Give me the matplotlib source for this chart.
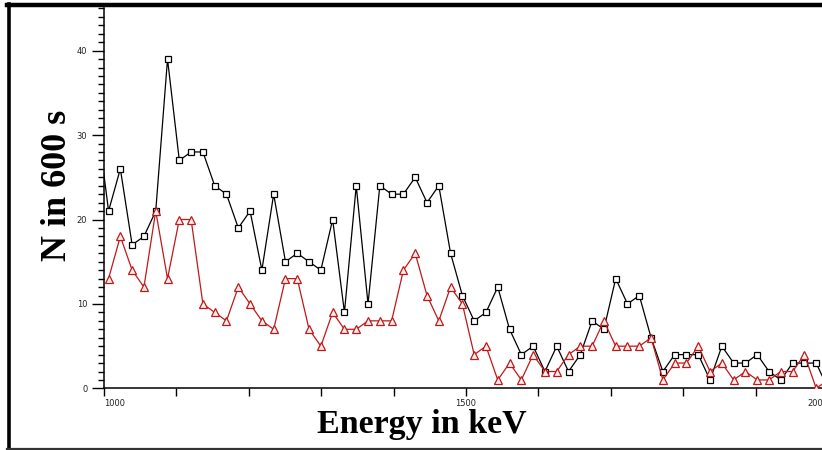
import matplotlib
matplotlib.use("Agg")
import matplotlib.pyplot as plt
from matplotlib.lines import Line2D
from matplotlib.ticker import MultipleLocator
import numpy as np

# energy channels (keV)
energy = np.linspace(990, 2000, 63)

# counts per channel in 600 s
counts_black = [32, 21, 26, 17, 18, 21, 39, 27, 28, 28, 24, 23, 19, 21, 14, 23,
                15, 16, 15, 14, 20, 9, 24, 10, 24, 23, 23, 25, 22, 24, 16, 11,
                8, 9, 12, 7, 4, 5, 2, 5, 2, 4, 8, 7, 13, 10, 11, 6, 2, 4,
                4, 4, 1, 5, 3, 3, 4, 2, 1, 3, 3, 3, 0]
counts_red = [np.nan, 13, 18, 14, 12, 21, 13, 20, 20, 10, 9, 8, 12, 10, 8, 7,
              13, 13, 7, 5, 9, 7, 7, 8, 8, 8, 14, 16, 11, 8, 12, 10,
              4, 5, 1, 3, 1, 4, 2, 2, 4, 5, 5, 8, 5, 5, 5, 6, 1, 3,
              3, 5, 2, 3, 1, 2, 1, 1, 2, 2, 4, 0, 1]

xticks = [1000, 1100, 1200, 1300, 1400, 1500, 1600, 1700, 1800, 1900, 2000]
xticklabels = ['1000', '', '', '', '', '1500', '', '', '', '', '2000']
yticks = [0, 10, 20, 30, 40]

W, H = 822, 450
fig = plt.figure(figsize=(W / 100, H / 100), dpi=100)
# axes runs past the right edge a little, as in the cropped original
ax = fig.add_axes([104 / W, 61.6 / H, 724 / W, 380 / H])

ax.plot(energy, counts_black, color='black', lw=0.9, marker='s', ms=4.2,
        mfc='white', mec='black', mew=0.9, zorder=3)
ax.plot(energy, counts_red, color='#c01818', lw=0.9, marker='^', ms=5.5,
        mfc='#fdeeee', mec='#c01818', mew=0.9, zorder=4)

ax.set_xlim(1000, 2000)
ax.set_ylim(0, 45)
ax.set_xticks(xticks)
ax.set_xticklabels(xticklabels)
ax.set_yticks(yticks)
ax.yaxis.set_minor_locator(MultipleLocator(1))

for s in ['top', 'right']:
    ax.spines[s].set_visible(False)
ax.spines['left'].set_linewidth(1.1)
ax.spines['bottom'].set_linewidth(1.1)
ax.tick_params(axis='y', which='major', length=9, width=1, direction='out',
               labelsize=6, pad=3, labelcolor='#222')
ax.tick_params(axis='y', which='minor', length=4, width=1, direction='out')
ax.tick_params(axis='x', which='major', length=6, width=1, direction='out',
               labelsize=6, pad=1.5, labelcolor='#222')
for lab, x in zip(ax.get_xticklabels(), xticks):
    if x == 1000:
        lab.set_horizontalalignment('left')
    elif x == 2000:
        lab.set_horizontalalignment('right')

fig.text(57 / W, 1 - 185 / H, 'N in 600 s', rotation=90, ha='center',
         va='center', fontsize=26, fontweight='bold',
         family='Liberation Serif')
fig.text(422 / W, 1 - 424 / H, 'Energy in keV', ha='center', va='center',
         fontsize=24.5, fontweight='bold', family='Liberation Serif')

# frame round the picture (left, top, bottom)
fig.add_artist(Line2D([8.5 / W, 8.5 / W], [0, 1 - 4 / H], color='black',
                      lw=2.6, transform=fig.transFigure))
fig.add_artist(Line2D([7 / W, 1], [1 - 5 / H, 1 - 5 / H], color='black',
                      lw=3.2, transform=fig.transFigure))
fig.add_artist(Line2D([7 / W, 1], [1 / H, 1 / H], color='#333',
                      lw=1.6, transform=fig.transFigure))

fig.savefig('out.png', dpi=100)
